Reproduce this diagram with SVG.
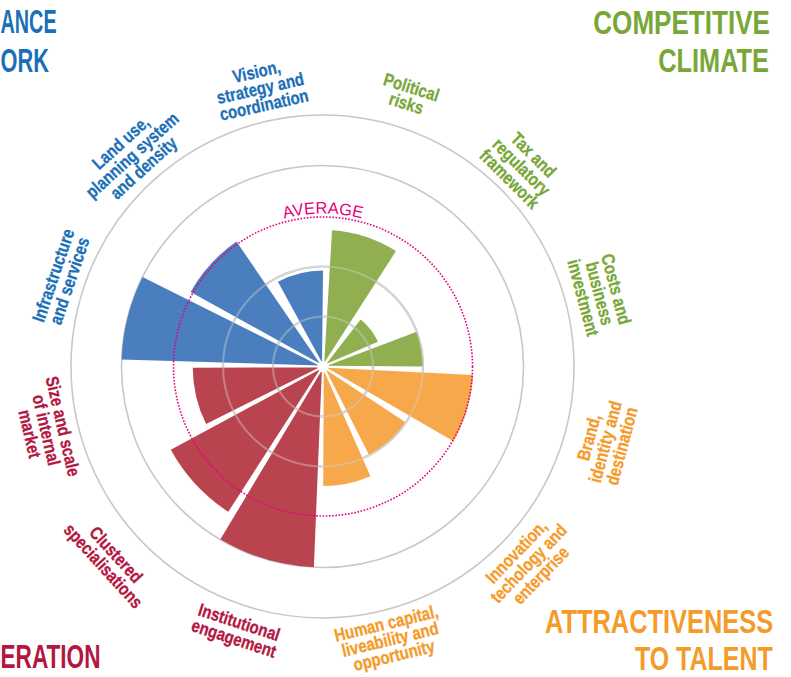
<svg xmlns="http://www.w3.org/2000/svg" width="791" height="677" viewBox="0 0 791 677">
<style>
.title{font-family:"Liberation Sans",Arial,sans-serif;font-weight:bold;font-size:33px}
.lbl{font-family:"Liberation Sans",Arial,sans-serif;font-weight:bold;font-size:18px;text-anchor:middle;stroke-width:0.3}
.blueT{fill:#1b6fb7;stroke:#1b6fb7}.greenT{fill:#78a737;stroke:#78a737}.orangeT{fill:#f49b2a;stroke:#f49b2a}.redT{fill:#b3173f;stroke:#b3173f}
.title.blueT,.title.greenT,.title.orangeT,.title.redT{stroke:none}
.blue{fill:#4a7ebe}.green{fill:#8faf50}.orange{fill:#f6a84a}.red{fill:#b9434e}
.ring{fill:none;stroke:#c8c8c8;stroke-width:1.6}
.grid{fill:none;stroke:#c6c6c6;stroke-width:2.2}
.gridin{fill:none;stroke:#f2f2f2;stroke-width:0.6}
.avg{fill:none;stroke:#e6007e;stroke-width:1.6;stroke-dasharray:1.6 1.6}
</style>
<defs>
<path id="avgArc" d="M190.5,290 A153,153 0 0,1 455.5,290"/>
</defs>
<rect width="791" height="677" fill="#ffffff"/>
<g id="rings">
<circle class="ring" cx="322.5" cy="366.5" r="251.5"/>
<circle class="ring" cx="322.5" cy="366.5" r="201"/>
<circle class="grid" cx="323" cy="366.5" r="100"/>
<circle class="gridin" cx="323" cy="366.5" r="100"/>
<circle class="grid" cx="323" cy="366.5" r="50"/>
<circle class="gridin" cx="323" cy="366.5" r="50"/>
</g>
<g id="bars">
<g id="bar-vision"><path class="blue" d="M322.03,362.62 L277.93,281.74 A96,96 0 0,1 323,270.5 Z"/></g>
<g id="bar-landuse"><path class="blue" d="M320.04,363.8 L190.58,291.88 A152,152 0 0,1 236.47,241.54 Z"/></g>
<g id="bar-infrastructure"><path class="blue" d="M319.12,365.52 L121.62,359.47 A201.5,201.5 0 0,1 142.52,276.91 Z"/></g>
<g id="bar-political"><path class="green" d="M324.24,362.7 L332.05,230.3 A136.5,136.5 0 0,1 395.95,251.12 Z"/></g>
<g id="bar-tax"><path class="green" d="M326.16,364.05 L360.62,319.38 A60.3,60.3 0 0,1 377.96,341.69 Z"/></g>
<g id="bar-costs"><path class="green" d="M326.94,365.8 L416.79,331.81 A100,100 0 0,1 423,366.5 Z"/></g>
<g id="bar-brand"><path class="orange" d="M326.84,367.64 L473.07,374.89 A150.3,150.3 0 0,1 453.43,441.2 Z"/></g>
<g id="bar-innovation"><path class="orange" d="M325.66,369.48 L405.49,422.14 A99.5,99.5 0 0,1 368.94,454.76 Z"/></g>
<g id="bar-human"><path class="orange" d="M323.81,370.42 L370.45,476.18 A119.5,119.5 0 0,1 323.21,486 Z"/></g>
<g id="bar-institutional"><path class="red" d="M321.85,370.33 L313.88,567.29 A201,201 0 0,1 220.39,539.34 Z"/></g>
<g id="bar-clustered"><path class="red" d="M320.07,369.22 L228.25,511.84 A173.5,173.5 0 0,1 170.82,449.81 Z"/></g>
<g id="bar-size"><path class="red" d="M319.11,367.42 L206.08,424.03 A130.3,130.3 0 0,1 192.71,367.64 Z"/></g>
</g>
<g id="grid-over" opacity="0.4">
<circle class="grid" cx="323" cy="366.5" r="100"/>
<circle class="gridin" cx="323" cy="366.5" r="100"/>
<circle class="grid" cx="323" cy="366.5" r="50"/>
<circle class="gridin" cx="323" cy="366.5" r="50"/>
</g>
<circle cx="323" cy="366.5" r="5.5" fill="#ffffff"/>
<g id="average">
<circle class="avg" cx="323" cy="366.5" r="149.5"/>
<text font-family="Liberation Sans, Arial, sans-serif" font-size="16.5" fill="#e6007e" text-anchor="middle"><textPath href="#avgArc" startOffset="50%">AVERAGE</textPath></text>
</g>
<g id="titles">
<text class="title blueT" transform="translate(0.5,33.3) scale(0.6,1)">ANCE</text>
<text class="title blueT" transform="translate(0.5,71.7) scale(0.66,1)">ORK</text>
<text class="title greenT" transform="translate(593.3,34.3) scale(0.79,1)">COMPETITIVE</text>
<text class="title greenT" transform="translate(658.3,71.7) scale(0.768,1)">CLIMATE</text>
<text class="title redT" transform="translate(0.5,668.3) scale(0.685,1)">ERATION</text>
<text class="title orangeT" transform="translate(545,633.3) scale(0.77,1)">ATTRACTIVENESS</text>
<text class="title orangeT" transform="translate(635,670) scale(0.756,1)">TO TALENT</text>
</g>
<g id="labels">
<g id="lbl-vision" transform="translate(260.2,88) rotate(-12.7)"><text class="lbl blueT" transform="scale(0.83,1)"><tspan x="0" y="-10.5">Vision,</tspan><tspan x="0" y="6.5">strategy and</tspan><tspan x="0" y="23.5">coordination</tspan></text></g>
<g id="lbl-landuse" transform="translate(131.9,155) rotate(-42.1)"><text class="lbl blueT" transform="scale(0.83,1)"><tspan x="0" y="-10.5">Land use,</tspan><tspan x="0" y="6.5">planning system</tspan><tspan x="0" y="23.5">and density</tspan></text></g>
<g id="lbl-infra" transform="translate(61,278) rotate(-71.3)"><text class="lbl blueT" transform="scale(0.83,1)"><tspan x="0" y="-2">Infrastructure</tspan><tspan x="0" y="15">and services</tspan></text></g>
<g id="lbl-political" transform="translate(409,95) rotate(17.6)"><text class="lbl greenT" transform="scale(0.83,1)"><tspan x="0" y="-2">Political</tspan><tspan x="0" y="15">risks</tspan></text></g>
<g id="lbl-tax" transform="translate(521.7,166.7) rotate(44.8)"><text class="lbl greenT" transform="scale(0.83,1)"><tspan x="0" y="-10.5">Tax and</tspan><tspan x="0" y="6.5">regulatory</tspan><tspan x="0" y="23.5">framework</tspan></text></g>
<g id="lbl-costs" transform="translate(600,293.3) rotate(75.2)"><text class="lbl greenT" transform="scale(0.83,1)"><tspan x="0" y="-10.5">Costs and</tspan><tspan x="0" y="6.5">business</tspan><tspan x="0" y="23.5">investment</tspan></text></g>
<g id="lbl-brand" transform="translate(605,441.7) rotate(-75.1)"><text class="lbl orangeT" transform="scale(0.83,1)"><tspan x="0" y="-10.5">Brand,</tspan><tspan x="0" y="6.5">identity and</tspan><tspan x="0" y="23.5">destination</tspan></text></g>
<g id="lbl-innovation" transform="translate(528.3,563.3) rotate(-46.2)"><text class="lbl orangeT" transform="scale(0.83,1)"><tspan x="0" y="-10.5">Innovation,</tspan><tspan x="0" y="6.5">techology and</tspan><tspan x="0" y="23.5">enterprise</tspan></text></g>
<g id="lbl-human" transform="translate(390,639) rotate(-13.6)"><text class="lbl orangeT" transform="scale(0.83,1)"><tspan x="0" y="-10">Human capital,</tspan><tspan x="0" y="6.5">liveability and</tspan><tspan x="0" y="23">opportunity</tspan></text></g>
<g id="lbl-institutional" transform="translate(236.7,630) rotate(18.1)"><text class="lbl redT" transform="scale(0.83,1)"><tspan x="0" y="-2">Institutional</tspan><tspan x="0" y="15">engagement</tspan></text></g>
<g id="lbl-clustered" transform="translate(110,560) rotate(47.7)"><text class="lbl redT" transform="scale(0.83,1)"><tspan x="0" y="-2">Clustered</tspan><tspan x="0" y="15">specialisations</tspan></text></g>
<g id="lbl-size" transform="translate(46.7,430) rotate(77.1)"><text class="lbl redT" transform="scale(0.83,1)"><tspan x="0" y="-10.5">Size and scale</tspan><tspan x="0" y="6.5">of internal</tspan><tspan x="0" y="23.5">market</tspan></text></g>
</g>
</svg>
